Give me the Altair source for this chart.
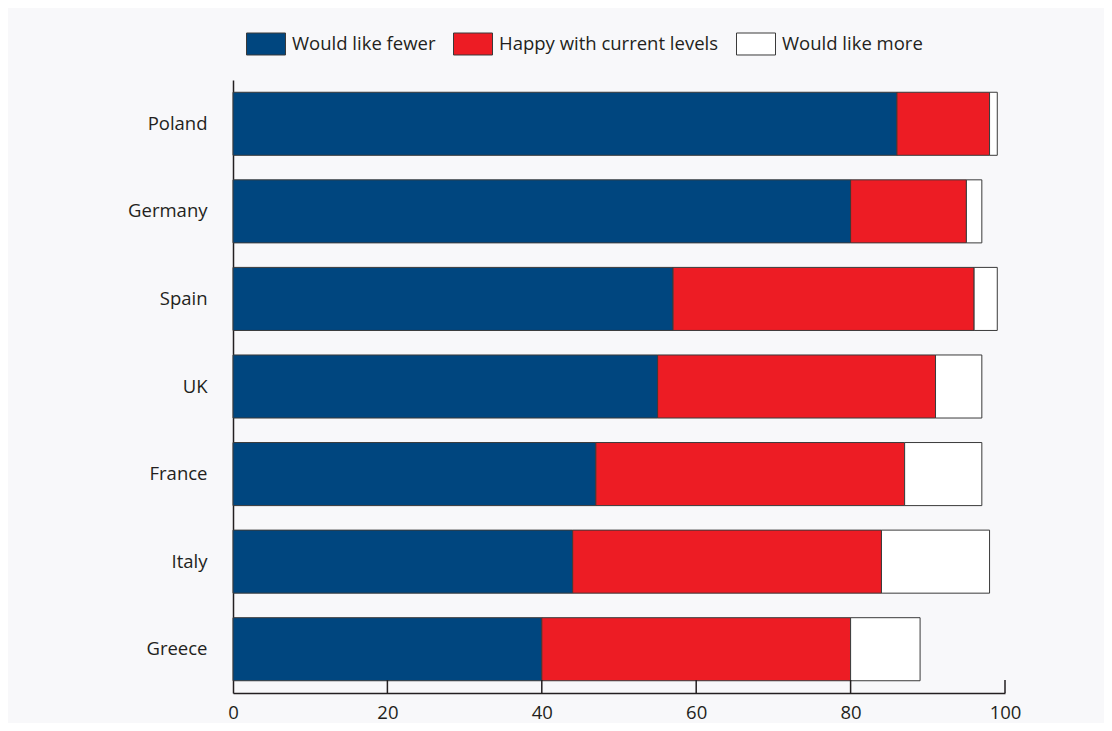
import altair as alt
import pandas as pd

countries = ["Poland", "Germany", "Spain", "UK", "France", "Italy", "Greece"]
fewer = [86, 80, 57, 55, 47, 44, 40]
happy = [12, 15, 39, 36, 40, 40, 40]
more = [1, 2, 3, 6, 10, 14, 9]
series = ["Would like fewer", "Happy with current levels", "Would like more"]
colors = ["#00467f", "#ed1c24", "#ffffff"]
ticks = [20, 40, 60, 80, 100]

rows = []
for i, c in enumerate(countries):
    for k, (s, vals) in enumerate(zip(series, [fewer, happy, more])):
        rows.append({"country": c, "series": s, "value": vals[i], "ord": k})
df = pd.DataFrame(rows)
tick_df = pd.DataFrame({"t": ticks})

FONT = "Open Sans"
TXT = "#231f20"
W, H = 772, 613

xscale = alt.Scale(domain=[0, 100], nice=False, zero=True)

bars = alt.Chart(df).mark_bar(stroke="#3a3a3a", strokeWidth=1, opacity=1).encode(
    x=alt.X("value:Q", stack="zero", scale=xscale,
            axis=alt.Axis(values=[0, 20, 40, 60, 80, 100], title=None, grid=False,
                          ticks=False, labelPadding=10, labelFontSize=18.5,
                          labelFlush=False,
                          labelFont=FONT, labelColor=TXT, domainColor=TXT,
                          domainWidth=1.5)),
    y=alt.Y("country:N", sort=countries,
            scale=alt.Scale(paddingInner=0.28, paddingOuter=0.14),
            axis=alt.Axis(title=None, ticks=False, grid=False, labelPadding=26,
                          labelAlign="right", labelFontSize=18.5, labelFont=FONT,
                          labelColor=TXT, domainColor=TXT, domainWidth=1.5)),
    color=alt.Color("series:N", scale=alt.Scale(domain=series, range=colors),
                    legend=alt.Legend(title=None, orient="none", legendX=13, legendY=-56,
                                      direction="horizontal", columns=3,
                                      symbolType="M-1,-0.564L1,-0.564L1,0.564L-1,0.564Z",
                                      symbolSize=1521, symbolStrokeColor="#3a3a3a",
                                      symbolStrokeWidth=1, symbolOpacity=1,
                                      labelFont=FONT, labelFontSize=18.5, labelColor=TXT,
                                      labelLimit=500,
                                      labelOffset=6, columnPadding=15, padding=0)),
    order=alt.Order("ord:Q"),
)

tickmarks = alt.Chart(tick_df).mark_rule(color=TXT, strokeWidth=1.5).encode(
    x=alt.X("t:Q", scale=xscale),
    y=alt.value(H),
    y2=alt.value(H - 13),
)

chart = alt.layer(bars, tickmarks).properties(
    width=W, height=H,
    autosize=alt.AutoSizeParams(type="none"),
    padding={"left": 225, "top": 72, "right": 99, "bottom": 30},
    background="#f8f8fa",
).configure_view(stroke=None)

chart.save("out.html", embed_options={"renderer": "svg", "actions": False})
